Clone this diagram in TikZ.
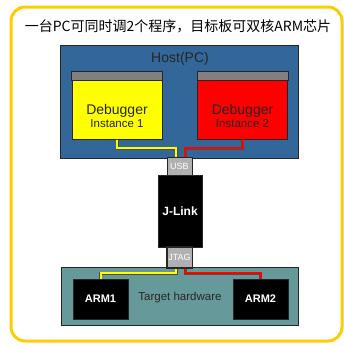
\documentclass[tikz,border=0pt]{standalone}
\usepackage{fontspec}
\setmainfont{Liberation Sans}
\newfontfamily\cjk{Noto Sans CJK SC}
\definecolor{hostblue}{HTML}{336699}
\definecolor{boardteal}{HTML}{669999}
\definecolor{framegold}{HTML}{FFCC00}
\definecolor{portgray}{HTML}{B0B0B0}
\definecolor{bargray}{HTML}{808080}
\definecolor{dbgred}{HTML}{FF0000}
\definecolor{dbgyellow}{HTML}{FFFF00}
\begin{document}
\begin{tikzpicture}
    [x=1pt,y=-1pt,
    box/.style = {draw=black!85, line width=1pt, inner sep=0pt},
    dbg/.style = {box, minimum width=90pt, minimum height=67pt},
    dbgtext/.style = {align=center, text=black!85, font=\fontsize{14}{15}\selectfont},
    port/.style = {box, fill=portgray, minimum width=25pt, text=white,
                   font=\fontsize{9}{10}\selectfont},
    chip/.style = {box, fill=black, minimum width=55pt, minimum height=40pt,
                   text=white, font=\bfseries\fontsize{11}{12}\selectfont},
    wire/.style = {line width=2pt, preaction={draw=black!70, line width=3pt}}]
    \useasboundingbox (0,0) rectangle (344,346);
    % Outer frame
    \draw[framegold, line width=3pt, rounded corners=14pt] (11,7) rectangle (342,341);
    \node (title) at (178,26) {\cjk\fontsize{14}{16}\selectfont 一台PC可同时调2个程序，目标板可双核ARM芯片};
    % Host PC
    \node[box, fill=hostblue, minimum width=238pt, minimum height=113pt] (host) at (179,101.5) {};
    \node[font=\fontsize{14}{15}\selectfont, text=black!85] (hostlabel) at (180,59) {Host(PC)};
    % Debugger instances
    \node[dbg, fill=dbgyellow] (dbg1) at (117,105.5) {};
    \node[dbg, fill=dbgred] (dbg2) at (242.5,105.5) {};
    \foreach \d/\n in {dbg1/1,dbg2/2}
    {
        \draw[box, fill=bargray] (\d.north west) rectangle ([yshift=-9pt]\d.north east);
        \node[dbgtext] (\d label) at ([yshift=-10pt]\d.center)
            {Debugger\\[-2pt]{\fontsize{11.5}{13}\selectfont Instance \n}};
    }
    % J-Link probe
    \node[port, minimum height=18pt] (usb) at (179.5,166) {USB};
    \node[box, fill=black, minimum width=44pt, minimum height=72pt, text=white,
          font=\bfseries\fontsize{12}{13}\selectfont] (jlink) at (180,211) {J-Link};
    \node[port, minimum height=21pt] (jtag) at (179.5,257.5) {JTAG};
    % Target hardware
    \node[box, fill=boardteal, minimum width=237pt, minimum height=58pt] (target) at (179.5,296) {};
    \node[font=\fontsize{11.5}{13}\selectfont, text=black!85] (targetlabel) at (180,298) {Target hardware};
    \node[chip] (arm1) at (100.5,299) {ARM1};
    \node[chip] (arm2) at (260.5,299) {ARM2};
    \draw[box] (jtag.north west) rectangle (jtag.south east);
    % Wires
    \coordinate (yt) at (176,148);
    \coordinate (rt) at (185,148);
    \coordinate (yb) at (176,273);
    \coordinate (rb) at (185,273);
    \draw[wire, dbgyellow] (dbg1.south) |- (yt) -- (yt |- usb.north);
    \draw[wire, dbgred] (dbg2.south) |- (rt) -- (rt |- usb.north);
    \draw[wire, dbgyellow] (arm1.north) |- (yb) -- (yb |- jtag.south);
    \draw[wire, dbgred] (arm2.north) |- (rb) -- (rb |- jtag.south);
\end{tikzpicture}
\end{document}
